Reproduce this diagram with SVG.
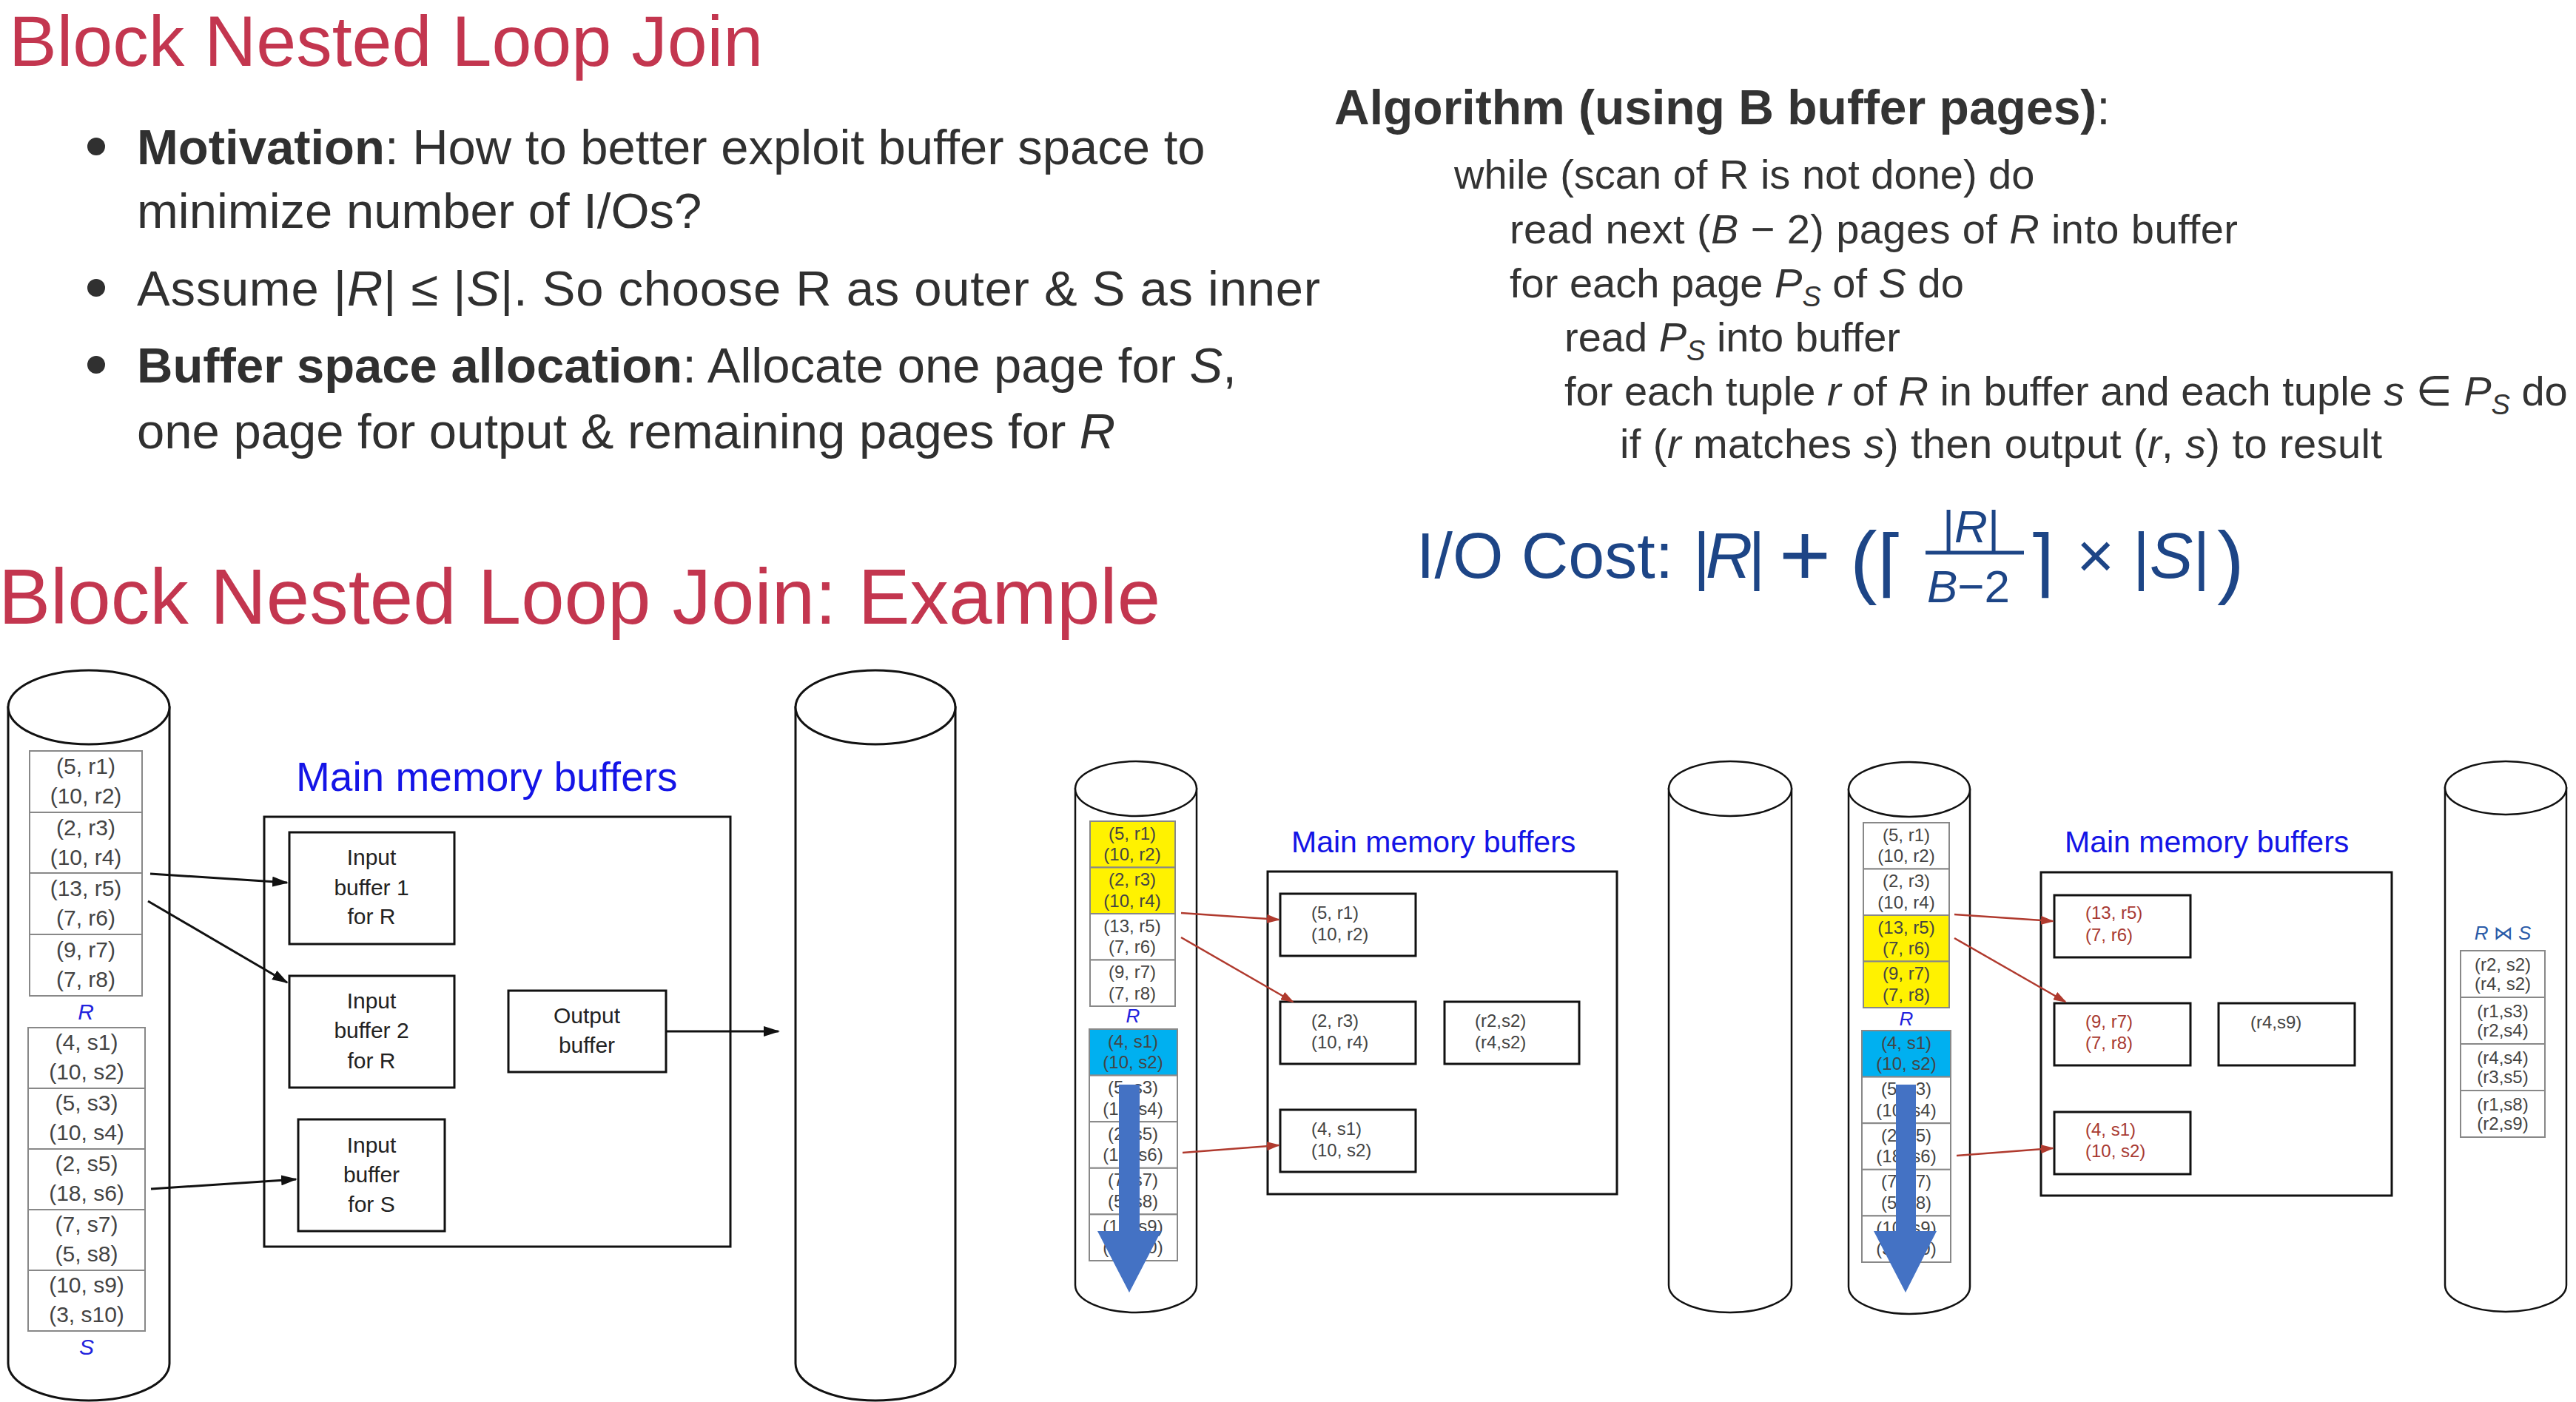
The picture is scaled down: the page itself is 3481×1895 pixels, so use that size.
<svg xmlns="http://www.w3.org/2000/svg" width="3481" height="1895" viewBox="0 0 3481 1895">
<defs>
<style>
text{font-family:"Liberation Sans",Arial,"DejaVu Sans",sans-serif}
.title{font-size:97px;fill:#c3364f}
.body{font-size:67px;fill:#303030}
.alg{font-size:56px;fill:#333}
.cost{font-size:88px;fill:#1d4586}
.mm{fill:#1414e6}
.c30{font-size:30px;fill:#444;text-anchor:middle}
.c24{font-size:24px;fill:#444;text-anchor:middle}
.b30{font-size:30px;fill:#222;text-anchor:middle}
.bt{font-size:24px;fill:#444}
.rt{font-size:24px;fill:#a83a32}
.lbl{font-style:italic;fill:#2222dd;text-anchor:middle}
.i{font-style:italic}
.b{font-weight:bold}
.cyl{fill:#fff;stroke:#111;stroke-width:3}
.cyl2{fill:#fff;stroke:#111;stroke-width:2.5}
.box{fill:none;stroke:#111;stroke-width:3}
.tbl{fill:#fff;stroke:#888;stroke-width:2}
.yel{fill:#fff200;stroke:#888;stroke-width:2}
.cya{fill:#00b0f0;stroke:#888;stroke-width:2}
.ka{stroke:#111;stroke-width:3;fill:none}
.ra{stroke:#b03a2e;stroke-width:2.5;fill:none}
.big{fill:#4472c4}
</style>
<marker id="ah" markerUnits="userSpaceOnUse" markerWidth="22" markerHeight="14" refX="20" refY="7" orient="auto"><path d="M0,0 L22,7 L0,14 z" fill="#111"/></marker>
<marker id="rh" markerUnits="userSpaceOnUse" markerWidth="18" markerHeight="12" refX="16" refY="6" orient="auto"><path d="M0,0 L18,6 L0,12 z" fill="#b03a2e"/></marker>
</defs>
<rect x="0" y="0" width="3481" height="1895" fill="#fff"/>

<g id="text-top">
<text class="title" x="12" y="89">Block Nested Loop Join</text>
<circle cx="130" cy="198" r="12" fill="#303030"/>
<circle cx="130" cy="389" r="12" fill="#303030"/>
<circle cx="130" cy="493" r="12" fill="#303030"/>
<text class="body" x="185" y="222"><tspan class="b">Motivation</tspan>: How to better exploit buffer space to</text>
<text class="body" x="185" y="308">minimize number of I/Os?</text>
<text class="body" x="185" y="413" textLength="1599">Assume |<tspan class="i">R</tspan>| ≤ |<tspan class="i">S</tspan>|. So choose R as outer &amp; S as inner</text>
<text class="body" x="185" y="517"><tspan class="b">Buffer space allocation</tspan>: Allocate one page for <tspan class="i">S</tspan>,</text>
<text class="body" x="185" y="606">one page for output &amp; remaining pages for <tspan class="i">R</tspan></text>

<text class="alg" x="1803" y="168" style="font-size:66px"><tspan class="b">Algorithm (using B buffer pages)</tspan>:</text>
<text class="alg" x="1965" y="255">while (scan of R is not done) do</text>
<text class="alg" x="2040" y="329" textLength="984">read next (<tspan class="i">B</tspan> − 2) pages of <tspan class="i">R</tspan> into buffer</text>
<text class="alg" x="2040" y="402">for each page <tspan class="i">P</tspan><tspan class="i" font-size="38" dy="12">S</tspan><tspan dy="-12"> of </tspan><tspan class="i">S</tspan> do</text>
<text class="alg" x="2114" y="475">read <tspan class="i">P</tspan><tspan class="i" font-size="38" dy="12">S</tspan><tspan dy="-12"> into buffer</tspan></text>
<text class="alg" x="2114" y="548">for each tuple <tspan class="i">r</tspan> of <tspan class="i">R</tspan> in buffer and each tuple <tspan class="i">s</tspan> ∈ <tspan class="i">P</tspan><tspan class="i" font-size="38" dy="12">S</tspan><tspan dy="-12"> do</tspan></text>
<text class="alg" x="2189" y="619" textLength="1030">if (<tspan class="i">r</tspan> matches <tspan class="i">s</tspan>) then output (<tspan class="i">r</tspan>, <tspan class="i">s</tspan>) to result</text>

<text class="cost" x="1914" y="781">I/O Cost:</text>
<text class="cost" x="2288" y="781" letter-spacing="-6">|<tspan class="i">R</tspan>|</text>
<text class="cost" x="2404" y="792" style="font-size:120px">+</text>
<text class="cost" x="2500" y="795" style="font-size:110px">(</text>
<text class="cost" x="2536" y="795" style="font-size:100px">⌈</text>
<text class="cost" x="2625" y="733" style="font-size:62px">|<tspan class="i">R</tspan>|</text>
<line x1="2602" y1="747" x2="2735" y2="747" stroke="#1d4586" stroke-width="5"/>
<text class="cost" x="2604" y="814" style="font-size:62px"><tspan class="i">B</tspan>−2</text>
<text class="cost" x="2738" y="795" style="font-size:100px">⌉</text>
<text class="cost" x="2806" y="781">×</text>
<text class="cost" x="2882" y="781">|<tspan class="i">S</tspan>|</text>
<text class="cost" x="2996" y="795" style="font-size:110px">)</text>

<text class="title" x="-2" y="843" style="font-size:105px">Block Nested Loop Join: Example</text>
</g>

<!-- Left diagram -->
<g id="disk-left">
<path class="cyl" d="M11,956 L11,1843 A109,50 0 0 0 229,1843 L229,956 Z"/>
<ellipse class="cyl" cx="120" cy="956" rx="109" ry="50"/>
<rect class="tbl" x="40" y="1015" width="152" height="83"/>
<rect class="tbl" x="40" y="1098" width="152" height="82"/>
<rect class="tbl" x="40" y="1180" width="152" height="83"/>
<rect class="tbl" x="40" y="1263" width="152" height="83"/>
<text class="c30" x="116" y="1046">(5, r1)</text><text class="c30" x="116" y="1086">(10, r2)</text>
<text class="c30" x="116" y="1129">(2, r3)</text><text class="c30" x="116" y="1169">(10, r4)</text>
<text class="c30" x="116" y="1211">(13, r5)</text><text class="c30" x="116" y="1251">(7, r6)</text>
<text class="c30" x="116" y="1294">(9, r7)</text><text class="c30" x="116" y="1334">(7, r8)</text>
<text class="lbl" x="116" y="1378" font-size="30">R</text>
<rect class="tbl" x="38" y="1389" width="158" height="82"/>
<rect class="tbl" x="38" y="1471" width="158" height="82"/>
<rect class="tbl" x="38" y="1553" width="158" height="82"/>
<rect class="tbl" x="38" y="1635" width="158" height="82"/>
<rect class="tbl" x="38" y="1717" width="158" height="82"/>
<text class="c30" x="117" y="1419">(4, s1)</text><text class="c30" x="117" y="1459">(10, s2)</text>
<text class="c30" x="117" y="1501">(5, s3)</text><text class="c30" x="117" y="1541">(10, s4)</text>
<text class="c30" x="117" y="1583">(2, s5)</text><text class="c30" x="117" y="1623">(18, s6)</text>
<text class="c30" x="117" y="1665">(7, s7)</text><text class="c30" x="117" y="1705">(5, s8)</text>
<text class="c30" x="117" y="1747">(10, s9)</text><text class="c30" x="117" y="1787">(3, s10)</text>
<text class="lbl" x="117" y="1831" font-size="30">S</text>
</g>

<g id="memory-left">
<text class="mm" x="400" y="1069" font-size="55">Main memory buffers</text>
<rect class="box" x="357" y="1104" width="630" height="581"/>
</g>
<g id="inbuf1-left">
<rect class="box" x="391" y="1125" width="223" height="151"/>
<text class="b30" x="502" y="1169">Input</text><text class="b30" x="502" y="1210">buffer 1</text><text class="b30" x="502" y="1249">for R</text>
</g>
<g id="inbuf2-left">
<rect class="box" x="391" y="1319" width="223" height="151"/>
<text class="b30" x="502" y="1363">Input</text><text class="b30" x="502" y="1403">buffer 2</text><text class="b30" x="502" y="1444">for R</text>
</g>
<g id="inbufS-left">
<rect class="box" x="403" y="1513" width="198" height="151"/>
<text class="b30" x="502" y="1558">Input</text><text class="b30" x="502" y="1598">buffer</text><text class="b30" x="502" y="1638">for S</text>
</g>
<g id="outbuf-left">
<rect class="box" x="687" y="1339" width="213" height="110"/>
<text class="b30" x="793" y="1383">Output</text><text class="b30" x="793" y="1423">buffer</text>
</g>
<g id="disk-left-out">
<path class="cyl" d="M1075,956 L1075,1843 A108,50 0 0 0 1291,1843 L1291,956 Z"/>
<ellipse class="cyl" cx="1183" cy="956" rx="108" ry="50"/>
</g>

<!-- Middle diagram -->
<g id="disk-mid">
<path class="cyl2" d="M1453,1066 L1453,1737 A82,37 0 0 0 1617,1737 L1617,1066 Z"/>
<ellipse class="cyl2" cx="1535" cy="1066" rx="82" ry="37"/>
<rect class="yel" x="1473" y="1110" width="115" height="62.5"/>
<rect class="yel" x="1473" y="1172.5" width="115" height="62.5"/>
<rect class="tbl" x="1473" y="1235" width="115" height="62.5"/>
<rect class="tbl" x="1473" y="1297.5" width="115" height="62.5"/>
<text class="c24" x="1530" y="1135">(5, r1)</text><text class="c24" x="1530" y="1163">(10, r2)</text>
<text class="c24" x="1530" y="1197">(2, r3)</text><text class="c24" x="1530" y="1226">(10, r4)</text>
<text class="c24" x="1530" y="1260">(13, r5)</text><text class="c24" x="1530" y="1288">(7, r6)</text>
<text class="c24" x="1530" y="1322">(9, r7)</text><text class="c24" x="1530" y="1351">(7, r8)</text>
<text class="lbl" x="1531" y="1382" font-size="26">R</text>
<rect class="cya" x="1472" y="1391" width="119" height="62.6"/>
<rect class="tbl" x="1472" y="1453.6" width="119" height="62.6"/>
<rect class="tbl" x="1472" y="1516.2" width="119" height="62.6"/>
<rect class="tbl" x="1472" y="1578.8" width="119" height="62.6"/>
<rect class="tbl" x="1472" y="1641.4" width="119" height="62.6"/>
<text class="c24" x="1531" y="1416">(4, s1)</text><text class="c24" x="1531" y="1444">(10, s2)</text>
<text class="c24" x="1531" y="1478">(5, s3)</text><text class="c24" x="1531" y="1507">(10, s4)</text>
<text class="c24" x="1531" y="1541">(2, s5)</text><text class="c24" x="1531" y="1569">(18, s6)</text>
<text class="c24" x="1531" y="1603">(7, s7)</text><text class="c24" x="1531" y="1632">(5, s8)</text>
<text class="c24" x="1531" y="1666">(10, s9)</text><text class="c24" x="1531" y="1694">(3, s10)</text>
<polygon class="big" points="1512,1466 1540,1466 1540,1664 1569,1664 1526,1747 1483,1664 1512,1664"/>
</g>
<g id="memory-mid">
<text class="mm" x="1745" y="1152" font-size="41">Main memory buffers</text>
<rect class="box" x="1713" y="1178" width="472" height="436" stroke-width="2.5"/>
</g>
<g id="buf1-mid"><rect class="box" x="1730" y="1208" width="183" height="84"/><text class="bt" x="1772" y="1242">(5, r1)</text><text class="bt" x="1772" y="1271">(10, r2)</text></g>
<g id="buf2-mid"><rect class="box" x="1730" y="1354" width="183" height="84"/><text class="bt" x="1772" y="1388">(2, r3)</text><text class="bt" x="1772" y="1417">(10, r4)</text></g>
<g id="bufS-mid"><rect class="box" x="1730" y="1500" width="183" height="84"/><text class="bt" x="1772" y="1534">(4, s1)</text><text class="bt" x="1772" y="1563">(10, s2)</text></g>
<g id="out-mid"><rect class="box" x="1952" y="1354" width="182" height="84"/><text class="bt" x="1993" y="1388">(r2,s2)</text><text class="bt" x="1993" y="1417">(r4,s2)</text></g>
<g id="disk-mid-out">
<path class="cyl2" d="M2255,1066 L2255,1737 A83,37 0 0 0 2421,1737 L2421,1066 Z"/>
<ellipse class="cyl2" cx="2338" cy="1066" rx="83" ry="37"/>
</g>

<!-- Right diagram -->
<g id="disk-right">
<path class="cyl2" d="M2498,1067 L2498,1739 A82,37 0 0 0 2662,1739 L2662,1067 Z"/>
<ellipse class="cyl2" cx="2580" cy="1067" rx="82" ry="37"/>
<rect class="tbl" x="2518" y="1112" width="116" height="62.5"/>
<rect class="tbl" x="2518" y="1174.5" width="116" height="62.5"/>
<rect class="yel" x="2518" y="1237" width="116" height="62.5"/>
<rect class="yel" x="2518" y="1299.5" width="116" height="62.5"/>
<text class="c24" x="2576" y="1137">(5, r1)</text><text class="c24" x="2576" y="1165">(10, r2)</text>
<text class="c24" x="2576" y="1199">(2, r3)</text><text class="c24" x="2576" y="1228">(10, r4)</text>
<text class="c24" x="2576" y="1262">(13, r5)</text><text class="c24" x="2576" y="1290">(7, r6)</text>
<text class="c24" x="2576" y="1324">(9, r7)</text><text class="c24" x="2576" y="1353">(7, r8)</text>
<text class="lbl" x="2576" y="1386" font-size="26">R</text>
<rect class="cya" x="2516" y="1393" width="120" height="62.6"/>
<rect class="tbl" x="2516" y="1455.6" width="120" height="62.6"/>
<rect class="tbl" x="2516" y="1518.2" width="120" height="62.6"/>
<rect class="tbl" x="2516" y="1580.8" width="120" height="62.6"/>
<rect class="tbl" x="2516" y="1643.4" width="120" height="62.6"/>
<text class="c24" x="2576" y="1418">(4, s1)</text><text class="c24" x="2576" y="1446">(10, s2)</text>
<text class="c24" x="2576" y="1480">(5, s3)</text><text class="c24" x="2576" y="1509">(10, s4)</text>
<text class="c24" x="2576" y="1543">(2, s5)</text><text class="c24" x="2576" y="1571">(18, s6)</text>
<text class="c24" x="2576" y="1605">(7, s7)</text><text class="c24" x="2576" y="1634">(5, s8)</text>
<text class="c24" x="2576" y="1668">(10, s9)</text><text class="c24" x="2576" y="1696">(3, s10)</text>
<polygon class="big" points="2562,1466 2589,1466 2589,1664 2617,1664 2575,1747 2532,1664 2562,1664"/>
</g>
<g id="memory-right">
<text class="mm" x="2790" y="1152" font-size="41">Main memory buffers</text>
<rect class="box" x="2758" y="1179" width="474" height="437" stroke-width="2.5"/>
</g>
<g id="buf1-right"><rect class="box" x="2776" y="1210" width="184" height="84"/><text class="rt" x="2818" y="1242">(13, r5)</text><text class="rt" x="2818" y="1272">(7, r6)</text></g>
<g id="buf2-right"><rect class="box" x="2776" y="1356" width="184" height="84"/><text class="rt" x="2818" y="1389">(9, r7)</text><text class="rt" x="2818" y="1418">(7, r8)</text></g>
<g id="bufS-right"><rect class="box" x="2776" y="1503" width="184" height="84"/><text class="rt" x="2818" y="1535">(4, s1)</text><text class="rt" x="2818" y="1564">(10, s2)</text></g>
<g id="out-right"><rect class="box" x="2998" y="1356" width="184" height="84"/><text class="bt" x="3041" y="1390" fill="#111">(r4,s9)</text></g>
<g id="disk-result">
<path class="cyl2" d="M3304,1065 L3304,1737 A82,36 0 0 0 3468,1737 L3468,1065 Z"/>
<ellipse class="cyl2" cx="3386" cy="1065" rx="82" ry="36"/>
<text x="3382" y="1270" font-size="26" fill="#2b5ca8" text-anchor="middle"><tspan class="i">R</tspan> ⋈ <tspan class="i">S</tspan></text>
<rect class="tbl" x="3325" y="1285" width="114" height="63"/>
<rect class="tbl" x="3325" y="1348" width="114" height="63"/>
<rect class="tbl" x="3325" y="1411" width="114" height="63"/>
<rect class="tbl" x="3325" y="1474" width="114" height="63"/>
<text class="c24" x="3382" y="1312">(r2, s2)</text><text class="c24" x="3382" y="1338">(r4, s2)</text>
<text class="c24" x="3382" y="1375">(r1,s3)</text><text class="c24" x="3382" y="1401">(r2,s4)</text>
<text class="c24" x="3382" y="1438" fill="#111">(r4,s4)</text><text class="c24" x="3382" y="1464" fill="#111">(r3,s5)</text>
<text class="c24" x="3382" y="1501" fill="#111">(r1,s8)</text><text class="c24" x="3382" y="1527" fill="#111">(r2,s9)</text>
</g>

<g id="connectors">
<line class="ka" x1="203" y1="1181" x2="388" y2="1193" marker-end="url(#ah)"/>
<line class="ka" x1="200" y1="1218" x2="388" y2="1328" marker-end="url(#ah)"/>
<line class="ka" x1="204" y1="1607" x2="400" y2="1594" marker-end="url(#ah)"/>
<line class="ka" x1="900" y1="1394" x2="1052" y2="1394" marker-end="url(#ah)"/>
<line class="ra" x1="1596" y1="1234" x2="1728" y2="1243" marker-end="url(#rh)"/>
<line class="ra" x1="1596" y1="1267" x2="1747" y2="1354" marker-end="url(#rh)"/>
<line class="ra" x1="1598" y1="1558" x2="1728" y2="1548" marker-end="url(#rh)"/>
<line class="ra" x1="2641" y1="1236" x2="2774" y2="1245" marker-end="url(#rh)"/>
<line class="ra" x1="2641" y1="1268" x2="2791" y2="1354" marker-end="url(#rh)"/>
<line class="ra" x1="2644" y1="1562" x2="2774" y2="1552" marker-end="url(#rh)"/>
</g>
</svg>
